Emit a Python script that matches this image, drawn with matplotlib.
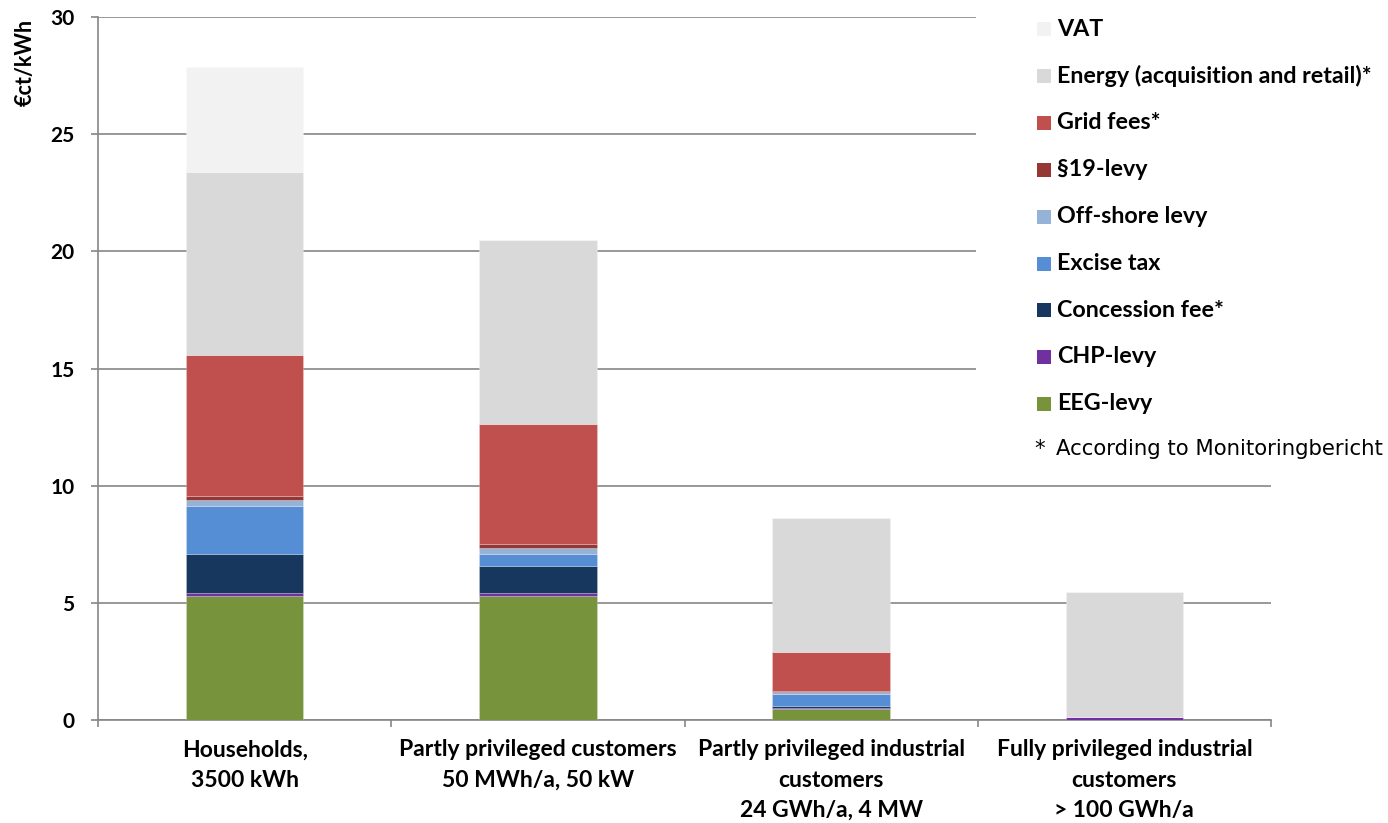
import matplotlib
matplotlib.use("Agg")
import matplotlib.pyplot as plt
from matplotlib.patches import Rectangle
import numpy as np

# Consumer groups
categories = [
    "Households,\n3500 kWh",
    "Partly privileged customers\n50 MWh/a, 50 kW",
    "Partly privileged industrial\ncustomers\n24 GWh/a, 4 MW",
    "Fully privileged industrial\ncustomers\n> 100 GWh/a",
]

# Price components in €ct/kWh (stacked bottom to top)
eeg_levy = [5.28, 5.28, 0.46, 0.00]
chp_levy = [0.12, 0.13, 0.04, 0.12]
concession_fee = [1.67, 1.17, 0.11, 0.00]
excise_tax = [2.05, 0.51, 0.51, 0.00]
offshore_levy = [0.25, 0.26, 0.07, 0.00]
s19_levy = [0.17, 0.17, 0.03, 0.00]
grid_fees = [6.03, 5.10, 1.68, 0.00]
energy = [7.81, 7.86, 5.73, 5.33]
vat = [4.48, 0.00, 0.00, 0.00]

series = [
    ("EEG-levy", eeg_levy, "#77933c"),
    ("CHP-levy", chp_levy, "#7030a0"),
    ("Concession fee*", concession_fee, "#17375e"),
    ("Excise tax", excise_tax, "#558ed5"),
    ("Off-shore levy", offshore_levy, "#95b3d7"),
    ("§19-levy", s19_levy, "#953735"),
    ("Grid fees*", grid_fees, "#c0504d"),
    ("Energy (acquisition and retail)*", energy, "#d9d9d9"),
    ("VAT", vat, "#f2f2f2"),
]

BOLD = "Lato"
W, H = 1388, 823
fig = plt.figure(figsize=(W / 100, H / 100), dpi=100)
ax = fig.add_axes([98 / W, 1 - 720 / H, (1271 - 98) / W, (720 - 17) / H])

x = np.arange(len(categories))
bottom = np.zeros(len(categories))
for name, vals, color in series:
    vals = np.array(vals)
    ax.bar(x, vals, width=0.4, bottom=bottom, color=color,
           edgecolor=(1, 1, 1, 0.3), linewidth=0.5, zorder=3)
    bottom += vals

ax.set_xlim(-0.5, len(categories) - 0.5)
ax.set_ylim(0, 30)
ax.set_yticks(np.arange(0, 31, 5))
ax.yaxis.grid(True, color="#868686", linewidth=1.2, zorder=0)
ax.set_axisbelow(True)

for s in ("top", "right"):
    ax.spines[s].set_visible(False)
for s in ("left", "bottom"):
    ax.spines[s].set_color("#868686")
    ax.spines[s].set_linewidth(1.2)

ax.tick_params(axis="y", direction="out", length=5, width=1.2, color="#868686",
               pad=12, labelsize=15)
for lab in ax.get_yticklabels():
    lab.set_fontfamily(BOLD)
    lab.set_fontweight("bold")

ax.set_xticks(x)
ax.set_xticklabels(categories, fontfamily=BOLD, fontweight="bold", fontsize=16.5,
                   va="top")
for lab in ax.get_xticklabels():
    lab.set_linespacing(1.55)
ax.tick_params(axis="x", length=0, pad=14)
ax.set_xticks(np.arange(-0.5, len(categories)), minor=True)
ax.tick_params(axis="x", which="minor", direction="out", length=5, width=1.2,
               color="#868686")

fig.text(25 / W, 1 - 62 / H, "€ct/kWh", rotation=90, ha="center", va="center",
         fontfamily=BOLD, fontweight="bold", fontsize=15.5)

# Legend panel drawn over the upper right of the grid
fig.add_artist(Rectangle((976 / W, 1 - 470 / H), (W - 976) / W, 470 / H,
                         transform=fig.transFigure, facecolor="white",
                         edgecolor="none", zorder=2))
row_y = [29, 76, 122.7, 169.5, 216.5, 263.5, 310, 356.7, 403.5]
for (name, vals, color), yc in zip(reversed(series), row_y):
    fig.add_artist(Rectangle((1037 / W, 1 - (yc + 7) / H), 14 / W, 14 / H,
                             transform=fig.transFigure, facecolor=color,
                             edgecolor="none", zorder=3))
    fig.text(1057 / W, 1 - yc / H, name, ha="left", va="center",
             fontfamily=BOLD, fontweight="bold", fontsize=16.75, zorder=4)
fig.text(1034 / W, 1 - 449 / H, "*", ha="left", va="center",
         fontfamily="DejaVu Sans", fontsize=15.3, zorder=4)
fig.text(1056 / W, 1 - 449 / H, "According to Monitoringbericht", ha="left",
         va="center", fontfamily="DejaVu Sans", fontsize=15.3, zorder=4)

fig.savefig("out.png", dpi=100, facecolor="white")
